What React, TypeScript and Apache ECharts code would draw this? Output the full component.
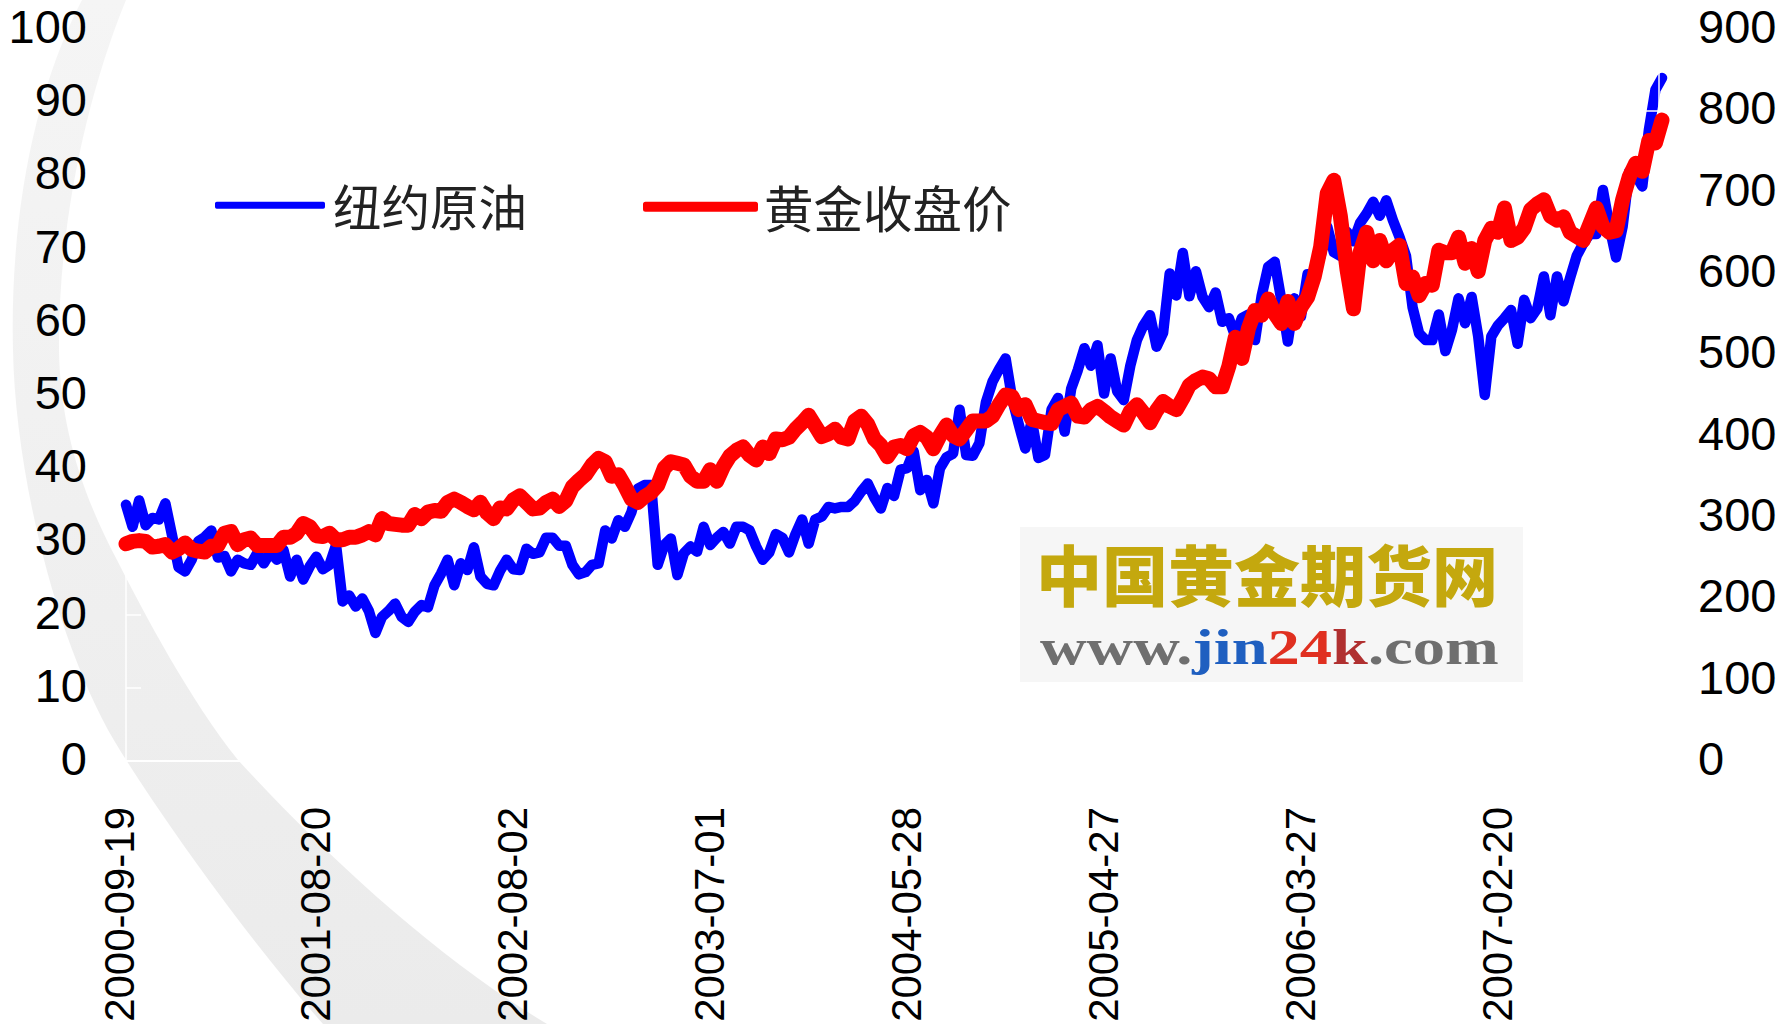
import React, { useEffect, useRef } from "react";
import * as echarts from "echarts";

const tickDates = ["2000-09-19", "2001-08-20", "2002-08-02", "2003-07-01", "2004-05-28", "2005-04-27", "2006-03-27", "2007-02-20"];
const oilName = "纽约原油";
const goldName = "黄金收盘价";

const oilValues = [
  35, 32, 35.6, 32.2, 33.2, 33, 35.2, 30.9, 26.5, 25.9,
  27.5, 30, 30.6, 31.5, 27.8, 28, 25.9, 27.5, 27, 26.8,
  28.4, 27, 28.5, 27.5, 28.8, 25.2, 27.5, 24.8, 26.6, 27.9,
  26.2, 26.8, 29.5, 21.8, 22.6, 21.1, 22.2, 20.5, 17.5, 19.7,
  20.5, 21.5, 19.7, 19, 20.4, 21.3, 21, 24, 25.6, 27.5,
  24, 27, 26.1, 29.2, 25.2, 24.2, 24, 26, 27.5, 26.2,
  26.1, 29, 28.3, 28.5, 30.5, 30.5, 29.4, 29.4, 26.8, 25.5,
  25.8, 26.8, 27, 31.5, 30.4, 32.9, 32, 34, 37.2, 37.7,
  37.7, 26.8, 29.5, 30.4, 25.4, 28.4, 29.3, 28.6, 32, 29.5,
  30.5, 31.3, 29.7, 32, 32, 31.5, 29.3, 27.5, 28.5, 31,
  30.5, 28.5, 31, 33, 29.7, 33, 33.4, 34.7, 34.5, 34.7,
  34.7, 35.5, 36.8, 37.9, 36, 34.5, 37.3, 36.2, 39.8, 40,
  42.3, 37, 38.4, 35.2, 40, 41.5, 42, 48, 41.8, 41.7,
  43.4, 49, 51.8, 53.5, 55, 49.5, 46, 42.7, 46.5, 41.4,
  41.8, 48, 49.6, 45, 50.9, 53.4, 56.4, 54, 56.8, 50.2,
  55, 50.5, 49.3, 54, 57.5, 59.5, 60.9, 56.6, 58.5, 66.6,
  63.6, 69.4, 63.5, 66.9, 63.4, 62, 64, 60, 60.5, 58,
  60.5, 61, 57.5, 63.5, 67.5, 68.2, 63, 57.3, 63.2, 60.7,
  66.5, 66.5, 69, 73, 69.5, 69, 72.3, 71, 73.5, 74.8,
  76.4, 74.5, 76.6, 73.9, 71.6, 69, 62, 58.4, 57.5, 57.5,
  61, 56, 58.9, 63.2, 59.8, 63.4, 58, 50, 58, 59.5,
  60.5, 61.6, 57, 63, 60.5, 61.8, 66.2, 60.9, 66.2, 62.8,
  66, 69, 70.7, 72, 72, 78, 73, 68.8, 73, 80.5,
  80, 78.5, 86.2, 91.7, 93.3,
];

const goldValues = [
  267, 270, 271, 270, 263, 264, 266, 257, 261, 268,
  260, 258, 257, 264, 265, 280, 282, 266, 272, 274,
  265, 265, 265, 265, 275, 275, 280, 292, 288, 277,
  276, 280, 272, 272, 275, 275, 278, 282, 278, 298,
  292, 291, 290, 290, 303, 298, 306, 308, 307, 318,
  322, 318, 313, 309, 318, 305, 298, 311, 310, 321,
  326, 318, 310, 311, 318, 322, 313, 320, 337, 345,
  352, 364, 372, 368, 350, 352, 338, 322, 318, 325,
  330, 339, 360, 368, 366, 364, 350, 344, 344, 358,
  344, 362, 375, 382, 386, 376, 370, 386, 378, 396,
  395, 398, 408, 416, 425, 412, 399, 402, 408, 398,
  396, 418, 424, 414, 396, 388, 374, 386, 388, 384,
  400, 404, 398, 384, 400, 413, 400, 396, 407, 418,
  418, 418, 424, 438, 450, 448, 432, 438, 420, 418,
  416, 415, 432, 436, 440, 424, 423, 432, 436, 430,
  423, 418, 413, 430, 438, 428, 416, 431, 442, 436,
  432, 446, 462, 468, 472, 470, 460, 460, 485, 521,
  495, 532, 554, 548, 568, 550, 538, 565, 538, 558,
  570, 595, 632, 698, 714, 670, 605, 556, 625, 650,
  615, 640, 615, 628, 634, 587, 595, 572, 587, 585,
  628, 625, 625, 644, 612, 630, 602, 640, 655, 650,
  680, 640, 644, 655, 678, 685, 690, 670, 665, 669,
  650, 645, 640, 660, 680, 657, 650, 652, 690, 718,
  735, 725, 763, 760, 788,
];

const TICK_EVERY = 30;
const categories = oilValues.map((_, i) => (i % TICK_EVERY === 0 ? tickDates[i / TICK_EVERY] ?? "" : ""));

const bandPath =
  "M82,0 C30,100 10,230 13,350 C15,470 55,640 115,742 C150,800 240,930 323,1024 " +
  "L547,1024 C440,960 330,860 238,760 C190,700 145,615 117,560 C85,500 60,430 59,350 C58,230 85,100 126,0 Z";
echarts.graphic.registerShape("bgBand", echarts.graphic.extendPath(bandPath, {}));

const SANS = "'Liberation Sans', Arial, sans-serif";
const CJK = "'Noto Sans CJK SC', sans-serif";
const SERIF = "'Liberation Serif', serif";

export default function App() {
  const ref = useRef<HTMLDivElement>(null);
  useEffect(() => {
    document.body.style.margin = "0";
    const chart = echarts.init(ref.current!, undefined, { renderer: "svg" });
    const axisText = { color: "#000", fontFamily: SANS, fontSize: 47, verticalAlign: "bottom", lineHeight: 5 };
    chart.setOption({
      animation: false,
      backgroundColor: "#fff",
      grid: { left: 126, right: 121, top: 29, bottom: 263, containLabel: false, outerBoundsMode: "none" },
      legend: [
        {
          data: [oilName], left: 215, top: 181, padding: 0, icon: "roundRect",
          itemWidth: 110, itemHeight: 7, itemGap: 0,
          textStyle: { fontFamily: CJK, fontSize: 48.5, color: "#222", padding: [0, 0, 23, 3] },
        },
        {
          data: [goldName], left: 643, top: 182, padding: 0, icon: "roundRect",
          itemWidth: 115, itemHeight: 10, itemGap: 0,
          textStyle: { fontFamily: CJK, fontSize: 49.5, color: "#222", padding: [0, 0, 0, 1] },
        },
      ],
      xAxis: {
        type: "category",
        data: categories,
        boundaryGap: false,
        axisLine: { show: true, lineStyle: { color: "#fff", width: 2 } },
        axisTick: { show: false },
        splitLine: { show: false },
        axisLabel: {
          interval: TICK_EVERY - 1, rotate: 90, margin: 46, color: "#000",
          fontFamily: SANS, fontSize: 42, verticalAlign: "bottom", lineHeight: 14,
        },
      },
      yAxis: [
        {
          type: "value", min: 0, max: 100, interval: 10, position: "left",
          axisLine: { show: true, lineStyle: { color: "#fff", width: 1.5 } },
          axisTick: { show: true, inside: true, length: 15, lineStyle: { color: "#fff", width: 1.5 } },
          splitLine: { show: false },
          axisLabel: { ...axisText, margin: 39 },
        },
        {
          type: "value", min: 0, max: 900, interval: 100, position: "right", offset: -3, z: 3,
          axisLine: { show: true, lineStyle: { color: "#fff", width: 1.5 } },
          axisTick: { show: true, inside: true, length: 15, lineStyle: { color: "#fff", width: 1.5 } },
          splitLine: { show: false },
          axisLabel: { ...axisText, margin: 39 },
        },
      ],
      series: [
        {
          name: oilName, type: "line", yAxisIndex: 0, data: oilValues, z: 2,
          showSymbol: false, smooth: false, clip: false,
          itemStyle: { color: "#0000ff" },
          lineStyle: { color: "#0000ff", width: 10.5, cap: "round", join: "round" },
        },
        {
          name: goldName, type: "line", yAxisIndex: 1, data: goldValues, z: 4,
          showSymbol: false, smooth: false, clip: false,
          itemStyle: { color: "#ff0000" },
          lineStyle: { color: "#ff0000", width: 15, cap: "round", join: "round" },
        },
      ],
      graphic: [
        {
          type: "bgBand", z: -1, silent: true,
          style: {
            fill: {
              type: "linear", x: 0, y: 0, x2: 0, y2: 1,
              colorStops: [{ offset: 0, color: "#f5f5f5" }, { offset: 1, color: "#ebebeb" }],
            },
          },
        },
        {
          type: "rect", z: 1, silent: true,
          shape: { x: 1020, y: 527, width: 503, height: 155 },
          style: { fill: "#f6f6f6" },
        },
        {
          type: "text", z: 2, silent: true, x: 1036, y: 572,
          style: {
            text: "中国黄金期货网", fontFamily: CJK, fontWeight: 900, fontSize: 66,
            verticalAlign: "middle", align: "left", fill: "#c4a80e",
          },
        },
        {
          type: "text", z: 2, silent: true, x: 1040, y: 647, scaleX: 1.29,
          style: {
            text: "{g|www.}{b|jin}{r|24}{d|k}{g|.com}",
            align: "left", verticalAlign: "middle",
            fontFamily: SERIF, fontWeight: "bold", fontSize: 50,
            rich: {
              g: { fill: "#6f6f6f", fontFamily: SERIF, fontWeight: "bold", fontSize: 50 },
              b: { fill: "#1f5fc0", fontFamily: SERIF, fontWeight: "bold", fontSize: 50 },
              r: { fill: "#e03020", fontFamily: SERIF, fontWeight: "bold", fontSize: 50 },
              d: { fill: "#b03030", fontFamily: SERIF, fontWeight: "bold", fontSize: 50 },
            },
          },
        },
      ],
    });
    return () => chart.dispose();
  }, []);
  return <div ref={ref} style={{ position: "absolute", left: 0, top: 0, width: 1783, height: 1024 }} />;
}
